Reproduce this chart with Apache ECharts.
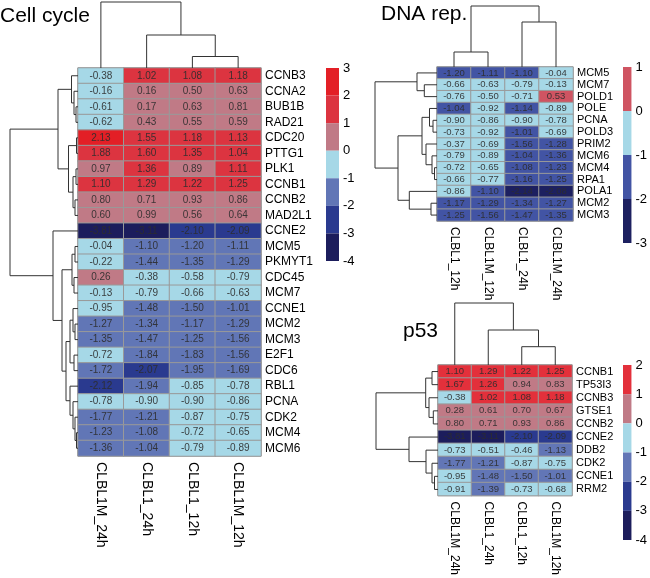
<!DOCTYPE html>
<html><head><meta charset="utf-8">
<script src="https://cdn.jsdelivr.net/npm/echarts/dist/echarts.min.js"></script>
<style>html,body{margin:0;padding:0;background:#fff}#c{width:650px;height:578px}</style>
</head><body><div id="c"></div><script>
const FONT = '"Liberation Sans", Arial, sans-serif';

// ---------- Cell cycle ----------
const ccTitle = 'Cell cycle';
const ccCols = ['CLBL1M_24h', 'CLBL1_24h', 'CLBL1_12h', 'CLBL1M_12h'];
const ccRows = ['CCNB3','CCNA2','BUB1B','RAD21','CDC20','PTTG1','PLK1','CCNB1','CCNB2','MAD2L1','CCNE2','MCM5','PKMYT1','CDC45','MCM7','CCNE1','MCM2','MCM3','E2F1','CDC6','RBL1','PCNA','CDK2','MCM4','MCM6'];
const ccValues = [
  [-0.38, 1.02, 1.08, 1.18],
  [-0.16, 0.16, 0.50, 0.63],
  [-0.61, 0.17, 0.63, 0.81],
  [-0.62, 0.43, 0.55, 0.59],
  [2.13, 1.55, 1.18, 1.13],
  [1.88, 1.60, 1.35, 1.04],
  [0.97, 1.36, 0.89, 1.11],
  [1.10, 1.29, 1.22, 1.25],
  [0.80, 0.71, 0.93, 0.86],
  [0.60, 0.99, 0.56, 0.64],
  [-3.81, -3.11, -2.10, -2.09],
  [-0.04, -1.10, -1.20, -1.11],
  [-0.22, -1.44, -1.35, -1.29],
  [0.26, -0.38, -0.58, -0.79],
  [-0.13, -0.79, -0.66, -0.63],
  [-0.95, -1.48, -1.50, -1.01],
  [-1.27, -1.34, -1.17, -1.29],
  [-1.35, -1.47, -1.25, -1.56],
  [-0.72, -1.84, -1.83, -1.56],
  [-1.72, -2.07, -1.95, -1.69],
  [-2.12, -1.94, -0.85, -0.78],
  [-0.78, -0.90, -0.90, -0.86],
  [-1.77, -1.21, -0.87, -0.75],
  [-1.23, -1.08, -0.72, -0.65],
  [-1.36, -1.04, -0.79, -0.89]
];
// dendrograms: [height, left, right], leaves = index
const ccColTree = [66, 0, [33, 1, [11.5, 2, 3]]];
const ccRowTree = [68,
  [20, [6.5, 0, [4, 1, [2, 2, 3]]], [9.5, [1.5, 4, 5], [5, [2, 6, 7], [3, 8, 9]]]],
  [25, 10, [16, [6, [3, 11, 12], [4, 13, 14]],
    [12, [8, [5, 15, [3, 16, 17]], [4, 18, 19]], [8, 20, [5, 21, [3, 22, [1.5, 23, 24]]]]]]]
];
const ccBreaks = [3, 2, 1, 0, -1, -2, -3, -4];
const ccColors = ['#E31F26', '#DC3440', '#C07A86', '#A6D8E7', '#6176B6', '#2A3A8F', '#1C1D5C'];

// ---------- DNA rep. ----------
const dnaTitle = 'DNA rep.';
const dnaCols = ['CLBL1_12h', 'CLBL1M_12h', 'CLBL1_24h', 'CLBL1M_24h'];
const dnaRows = ['MCM5','MCM7','POLD1','POLE','PCNA','POLD3','PRIM2','MCM6','MCM4','RPA1','POLA1','MCM2','MCM3'];
const dnaValues = [
  [-1.20, -1.11, -1.10, -0.04],
  [-0.66, -0.63, -0.79, -0.13],
  [-0.76, -0.50, -0.71, 0.53],
  [-1.04, -0.92, -1.14, -0.89],
  [-0.90, -0.86, -0.90, -0.78],
  [-0.73, -0.92, -1.01, -0.69],
  [-0.37, -0.69, -1.56, -1.28],
  [-0.79, -0.89, -1.04, -1.36],
  [-0.72, -0.65, -1.08, -1.23],
  [-0.66, -0.77, -1.16, -1.25],
  [-0.86, -1.10, -2.14, -2.08],
  [-1.17, -1.29, -1.34, -1.27],
  [-1.25, -1.56, -1.47, -1.35]
];
const dnaColTree = [61, [15, 0, 1], [45, 2, 3]];
const dnaRowTree = [62,
  [20, 0, [12.7, 1, 2]],
  [39, [15, [7.5, 3, [4, 4, 5]], [11, 6, [5, 7, [2.5, 8, 9]]]], [27.7, 10, [6, 11, 12]]]
];
const dnaBreaks = [1, 0, -1, -2, -3];
const dnaColors = ['#CF5462', '#A6D8E7', '#4254A4', '#1D2060'];

// ---------- p53 ----------
const p53Title = 'p53';
const p53Cols = ['CLBL1M_24h', 'CLBL1_24h', 'CLBL1_12h', 'CLBL1M_12h'];
const p53Rows = ['CCNB1','TP53I3','CCNB3','GTSE1','CCNB2','CCNE2','DDB2','CDK2','CCNE1','RRM2'];
const p53Values = [
  [1.10, 1.29, 1.22, 1.25],
  [1.67, 1.26, 0.94, 0.83],
  [-0.38, 1.02, 1.08, 1.18],
  [0.28, 0.61, 0.70, 0.67],
  [0.80, 0.71, 0.93, 0.86],
  [-3.81, -3.11, -2.10, -2.09],
  [-0.73, -0.51, -0.46, -1.13],
  [-1.77, -1.21, -0.87, -0.75],
  [-0.95, -1.48, -1.50, -1.01],
  [-0.91, -1.39, -0.73, -0.68]
];
const p53ColTree = [62, 0, [35, 1, [18.3, 2, 3]]];
const p53RowTree = [62,
  [12.3, [6, 0, 1], [9, 2, [4.7, 3, 4]]],
  [29, 5, [12, 6, [6, 7, [3.5, 8, 9]]]]
];
const p53Breaks = [2, 1, 0, -1, -2, -3, -4];
const p53Colors = ['#E3303B', '#C07A86', '#A6D8E7', '#6276B6', '#2A3A8F', '#1C1D5C'];

// ---------- layout ----------
const panels = [
  {title: ccTitle, cols: ccCols, rows: ccRows, values: ccValues, colTree: ccColTree, rowTree: ccRowTree, breaks: ccBreaks, colors: ccColors,
   L: {x: 78, y: 68, w: 183, h: 388, tx: 0, ty: 6, bx: 326, by: 68, bw: 13, bh: 193, rowFont: 12, colFont: 14, cellFont: 10, barFont: 13}},
  {title: dnaTitle, cols: dnaCols, rows: dnaRows, values: dnaValues, colTree: dnaColTree, rowTree: dnaRowTree, breaks: dnaBreaks, colors: dnaColors,
   L: {x: 437, y: 67, w: 136, h: 154, tx: 381, ty: 4, bx: 623, by: 67, bw: 13, bh: 176, rowFont: 11, colFont: 12, cellFont: 9.5, barFont: 13}},
  {title: p53Title, cols: p53Cols, rows: p53Rows, values: p53Values, colTree: p53ColTree, rowTree: p53RowTree, breaks: p53Breaks, colors: p53Colors,
   L: {x: 438, y: 365, w: 134, h: 131, tx: 403, ty: 321, bx: 623, by: 365, bw: 14, bh: 175, rowFont: 11, colFont: 12, cellFont: 9.5, barFont: 13}}
];

function flatten(tree, out) {
  if (typeof tree === 'number') return {pos: tree + 0.5, h: 0};
  const a = flatten(tree[1], out), b = flatten(tree[2], out);
  out.push([tree[0], a.pos, b.pos, a.h, b.h]);
  return {pos: (a.pos + b.pos) / 2, h: tree[0]};
}

function dendroRender(orient) {
  return function (params, api) {
    const h = api.value(0), p1 = api.value(1), p2 = api.value(2), h1 = api.value(3), h2 = api.value(4);
    const pt = orient === 'row' ? (hh, pp) => api.coord([hh, pp]) : (hh, pp) => api.coord([pp, hh]);
    return {type: 'polyline', shape: {points: [pt(h1, p1), pt(h, p1), pt(h, p2), pt(h2, p2)]},
      style: {stroke: '#333', lineWidth: 1, fill: 'none'}};
  };
}

const hidden = {show: false};
const option = {animation: false, backgroundColor: '#fff', grid: [], xAxis: [], yAxis: [], series: [], visualMap: [], graphic: []};

panels.forEach(p => {
  const L = p.L;
  // heatmap
  let gi = option.grid.length;
  option.grid.push({left: L.x, top: L.y, width: L.w, height: L.h, show: true, borderColor: '#999', borderWidth: 1, backgroundColor: 'transparent'});
  option.xAxis.push({type: 'category', gridIndex: gi, data: p.cols, position: 'bottom', axisLine: hidden, axisTick: hidden, splitLine: hidden,
    axisLabel: {rotate: -90, fontSize: L.colFont, color: '#000', fontFamily: FONT, margin: 6, interval: 0}});
  option.yAxis.push({type: 'category', gridIndex: gi, data: p.rows, inverse: true, position: 'right', axisLine: hidden, axisTick: hidden, splitLine: hidden,
    axisLabel: {fontSize: L.rowFont, color: '#000', fontFamily: FONT, margin: 4, interval: 0}});
  const data = [];
  p.values.forEach((row, r) => row.forEach((v, c) => data.push([c, r, v])));
  const si = option.series.length;
  option.series.push({type: 'heatmap', xAxisIndex: gi, yAxisIndex: gi, data: data,
    itemStyle: {borderColor: '#999', borderWidth: 1},
    label: {show: true, formatter: q => q.value[2].toFixed(2), fontSize: L.cellFont, color: 'rgba(45,45,45,0.9)', fontFamily: FONT},
    emphasis: {disabled: true}});
  option.visualMap.push({type: 'piecewise', show: false, seriesIndex: si, dimension: 2,
    pieces: p.colors.map((col, i) => ({gt: p.breaks[i + 1], lte: p.breaks[i], color: col}))});

  // column dendrogram
  const cmax = p.colTree[0];
  gi = option.grid.length;
  option.grid.push({left: L.x, top: L.y - cmax, width: L.w, height: cmax});
  option.xAxis.push({type: 'value', gridIndex: gi, min: 0, max: p.cols.length, show: false});
  option.yAxis.push({type: 'value', gridIndex: gi, min: 0, max: cmax, show: false});
  const cseg = []; flatten(p.colTree, cseg);
  option.series.push({type: 'custom', xAxisIndex: gi, yAxisIndex: gi, data: cseg, renderItem: dendroRender('col'), silent: true});

  // row dendrogram
  const rmax = p.rowTree[0];
  gi = option.grid.length;
  option.grid.push({left: L.x - rmax, top: L.y, width: rmax, height: L.h});
  option.xAxis.push({type: 'value', gridIndex: gi, min: 0, max: rmax, inverse: true, show: false});
  option.yAxis.push({type: 'value', gridIndex: gi, min: 0, max: p.rows.length, inverse: true, show: false});
  const rseg = []; flatten(p.rowTree, rseg);
  option.series.push({type: 'custom', xAxisIndex: gi, yAxisIndex: gi, data: rseg, renderItem: dendroRender('row'), silent: true});

  // colour bar
  gi = option.grid.length;
  option.grid.push({left: L.bx, top: L.by, width: L.bw, height: L.bh});
  option.xAxis.push({type: 'value', gridIndex: gi, min: 0, max: 1, show: false});
  option.yAxis.push({type: 'value', gridIndex: gi, min: p.breaks[p.breaks.length - 1], max: p.breaks[0], interval: 1, position: 'right',
    axisLine: hidden, axisTick: hidden, splitLine: hidden,
    axisLabel: {fontSize: L.barFont, color: '#000', fontFamily: FONT, margin: 4, showMinLabel: true, showMaxLabel: true}});
  const bars = p.colors.map((c, i) => [p.breaks[i + 1], p.breaks[i], i]);
  const cols = p.colors;
  option.series.push({type: 'custom', xAxisIndex: gi, yAxisIndex: gi, data: bars, silent: true,
    renderItem: (params, api) => {
      const a = api.coord([0, api.value(1)]), b = api.coord([1, api.value(0)]);
      return {type: 'rect', shape: {x: a[0], y: a[1], width: b[0] - a[0], height: b[1] - a[1]}, style: {fill: cols[api.value(2)]}};
    }});

  option.graphic.push({type: 'text', left: L.tx, top: L.ty, style: {text: p.title, font: '21px ' + FONT, fill: '#000'}});
});

const chart = echarts.init(document.getElementById('c'), null, {renderer: 'canvas'});
chart.setOption(option);
</script></body></html>
